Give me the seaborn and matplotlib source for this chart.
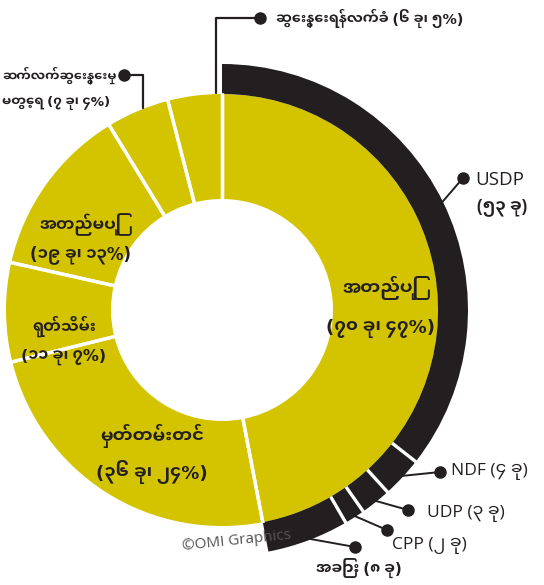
import matplotlib
matplotlib.use("Agg")
import numpy as np
import matplotlib.pyplot as plt
import seaborn as sns

# ---------------- data ----------------
categories = ["အတည်ပြု", "မှတ်တမ်းတင်", "ရုတ်သိမ်း", "အတည်မပြု",
              "ဆက်လက်ဆွေးနွေးမှု\nမတွေ့ရ", "ဆွေးနွေးရန်လက်ခံ"]
counts = [70, 36, 11, 19, 7, 6]
count_labels = ["(၇၀ ခု၊ ၄၇%)", "(၃၆ ခု၊ ၂၄%)", "(၁၁ ခု၊ ၇%)",
                "(၁၉ ခု၊ ၁၃%)", "(၇ ခု၊ ၄%)", "(၆ ခု၊ ၅%)"]

parties = ["USDP", "NDF", "UDP", "CPP", "အခြား"]
party_counts = [53, 4, 3, 2, 8]
party_labels = ["(၅၃ ခု)", "(၄ ခု)", "(၃ ခု)", "(၂ ခု)", "(၈ ခု)"]

credit = "©OMI Graphics"

# ---------------- style ----------------
sns.set_theme(style="white")
MY = ["Noto Sans Myanmar UI", "DejaVu Sans"]
LAT = ["Open Sans", "Noto Sans Myanmar UI", "DejaVu Sans"]
plt.rcParams["font.family"] = MY

YELLOW = "#d4c400"
BLACK = "#231f20"
TXT = "#231f20"

W, H = 544, 585
fig = plt.figure(figsize=(W / 100, H / 100), dpi=100)
ax = fig.add_axes([0, 0, 1, 1])

def Y(y):
    return H - y

CX, CY = 222, Y(310)
R_OUT, R_IN = 216, 111
R_RING = 246

# yellow donut
wedges, _ = ax.pie(counts, startangle=90, counterclock=False, center=(CX, CY),
                   radius=R_OUT, colors=[YELLOW] * len(counts),
                   wedgeprops=dict(width=R_OUT - R_IN, linewidth=0))

# black outer ring for the approved share, split by party
rest = sum(counts) - sum(party_counts)
pw, _ = ax.pie(party_counts + [rest], startangle=90, counterclock=False,
               center=(CX, CY), radius=R_RING,
               colors=[BLACK] * len(party_counts) + ["none"],
               wedgeprops=dict(width=R_RING - R_OUT, linewidth=0))

def pt(theta, r):
    t = np.deg2rad(theta)
    return CX + r * np.cos(t), CY + r * np.sin(t)

# white separators between yellow wedges
for w in wedges:
    for th in (w.theta1, w.theta2):
        (x0, y0), (x1, y1) = pt(th, R_IN - 1), pt(th, R_OUT + 1)
        ax.plot([x0, x1], [y0, y1], color="white", lw=2.4, solid_capstyle="butt", zorder=3)
# white separators between party wedges
for w in pw[:len(party_counts) - 1]:
    th = w.theta1
    (x0, y0), (x1, y1) = pt(th, R_OUT), pt(th, R_RING + 1)
    ax.plot([x0, x1], [y0, y1], color="white", lw=2.4, solid_capstyle="butt", zorder=3)

# inner labels (approved, recorded, withdrawn, not approved)
inner_pos = [(381, 288, 328), (152, 436, 472), (64, 326, 357), (81, 225, 255)]
inner_fs = [13, 13, 11.5, 12]
for i, (x, y1, y2) in enumerate(inner_pos):
    ax.text(x, Y(y1), categories[i], ha="center", va="center", fontsize=inner_fs[i],
            fontweight="bold", color=TXT, zorder=5)
    ax.text(x, Y(y2), count_labels[i], ha="center", va="center", fontsize=inner_fs[i],
            fontweight="bold", color=TXT, zorder=5)

# outer labels of the small yellow wedges
# continuing discussion not seen
ax.plot([124, 143, 143], [Y(75), Y(75), Y(108)], color=TXT, lw=1.6, zorder=4)
ax.plot([124], [Y(75)], "o", color=TXT, ms=8, zorder=5)
l1, l2 = categories[4].split("\n")
ax.text(2, Y(75), l1, ha="left", va="center", fontsize=9.3, fontweight="bold", color=TXT)
ax.text(2, Y(103), l2 + " " + count_labels[4], ha="left", va="center",
        fontsize=9.6, fontweight="bold", color=TXT)
# accepted for discussion
ax.plot([260, 216, 216], [Y(18), Y(18), Y(93)], color=TXT, lw=1.6, zorder=4)
ax.plot([260], [Y(18)], "o", color=TXT, ms=8, zorder=5)
ax.text(276, Y(18), categories[5] + " " + count_labels[5], ha="left", va="center",
        fontsize=10.3, fontweight="bold", color=TXT)

# party labels
dots = [(463, 178), (440, 472), (408, 510), (387, 530), (355, 547)]
for i, w in enumerate(pw[:len(party_counts)]):
    mid = (w.theta1 + w.theta2) / 2
    sx, sy = pt(mid, R_RING - 2)
    dx, dy = dots[i]
    ax.plot([sx, dx], [sy, Y(dy)], color=TXT, lw=1.4, zorder=4)
    ax.plot([dx], [Y(dy)], "o", color=TXT, ms=8, zorder=5)

ax.text(475, Y(180), parties[0], ha="left", va="center", fontsize=13.5, color=TXT, family=LAT)
ax.text(477, Y(207), party_labels[0], ha="left", va="center", fontsize=12,
        fontweight="bold", color=TXT, family=LAT)
ax.text(451, Y(472), parties[1] + " " + party_labels[1], ha="left", va="center",
        fontsize=12.5, color=TXT, family=LAT)
ax.text(427, Y(513), parties[2] + " " + party_labels[2], ha="left", va="center",
        fontsize=12.5, color=TXT, family=LAT)
ax.text(392, Y(545), parties[3] + " " + party_labels[3], ha="left", va="center",
        fontsize=12.5, color=TXT, family=LAT)
ax.text(316, Y(568), parties[4] + " " + party_labels[4], ha="left", va="center",
        fontsize=11, fontweight="bold", color=TXT, family=MY)

ax.text(181, Y(541), credit, ha="left", va="center", fontsize=11, color="#555555",
        rotation=6, family=["Open Sans", "DejaVu Sans"], zorder=6)

ax.set_xlim(0, W)
ax.set_ylim(0, H)
ax.set_aspect("equal")
ax.axis("off")
fig.savefig("out.png", dpi=100, facecolor="white")
